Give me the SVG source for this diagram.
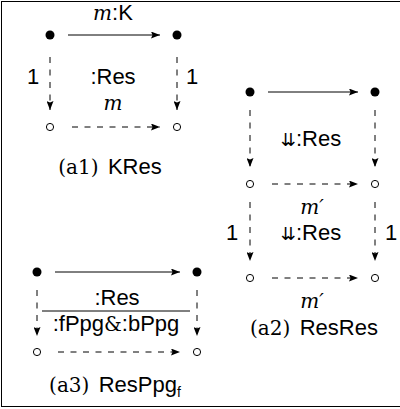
<svg xmlns="http://www.w3.org/2000/svg" width="400" height="409" viewBox="0 0 400 409">
  <defs>
    <marker id="ah" markerWidth="9" markerHeight="7" refX="9" refY="3.5" orient="auto" markerUnits="userSpaceOnUse">
      <path d="M0,0 L9,3.5 L0,7 L1.5,3.5 z" fill="#000"/>
    </marker>
    <style>
      .edge{stroke:#000;stroke-width:1;fill:none;marker-end:url(#ah)}
      .dash{stroke-dasharray:6 6.5}
      .full{fill:#000}
      .hollow{fill:#fff;stroke:#000;stroke-width:1}
      .rule{stroke:#000;stroke-width:1}
      .sf{font-family:"Liberation Sans",Arial,sans-serif;font-size:22px}
      .rm{font-family:"DejaVu Serif","Liberation Serif",serif;font-size:20px}
      .it{font-family:"DejaVu Serif","Liberation Serif",serif;font-style:italic;font-size:20px}
      .sym{font-family:"DejaVu Sans",sans-serif;font-size:18px}
      text{text-anchor:middle;fill:#000}
    </style>
  </defs>

  <!-- frame -->
  <rect x="1.5" y="1.5" width="402" height="405" fill="none" stroke="#000" stroke-width="1"/>

  <!-- nodes -->
  <g id="a1-tl"><circle class="full" cx="50" cy="35" r="4.5"/></g>
  <g id="a1-tr"><circle class="full" cx="177" cy="35" r="4.5"/></g>
  <g id="a1-bl"><circle class="hollow" cx="50" cy="127" r="3.6"/></g>
  <g id="a1-br"><circle class="hollow" cx="177" cy="127" r="3.6"/></g>

  <g id="a2-tl"><circle class="full" cx="250" cy="92" r="4.5"/></g>
  <g id="a2-tr"><circle class="full" cx="375" cy="92" r="4.5"/></g>
  <g id="a2-ml"><circle class="hollow" cx="250" cy="184" r="3.6"/></g>
  <g id="a2-mr"><circle class="hollow" cx="375" cy="184" r="3.6"/></g>
  <g id="a2-bl"><circle class="hollow" cx="250" cy="278" r="3.6"/></g>
  <g id="a2-br"><circle class="hollow" cx="375" cy="278" r="3.6"/></g>

  <g id="a3-tl"><circle class="full" cx="37" cy="272" r="4.5"/></g>
  <g id="a3-tr"><circle class="full" cx="197" cy="272" r="4.5"/></g>
  <g id="a3-bl"><circle class="hollow" cx="37" cy="352" r="3.6"/></g>
  <g id="a3-br"><circle class="hollow" cx="197" cy="352" r="3.6"/></g>

  <!-- connectors -->
  <g id="connectors">
    <line class="edge" x1="68" y1="35" x2="160" y2="35"/>
    <line class="edge dash" x1="50" y1="57" x2="50" y2="110"/>
    <line class="edge dash" x1="177" y1="57" x2="177" y2="110"/>
    <line class="edge dash" x1="72" y1="127" x2="160" y2="127"/>

    <line class="edge" x1="268" y1="92" x2="358" y2="92"/>
    <line class="edge dash" x1="250" y1="110" x2="250" y2="167"/>
    <line class="edge dash" x1="375" y1="110" x2="375" y2="167"/>
    <line class="edge dash" x1="272" y1="184" x2="358" y2="184"/>
    <line class="edge dash" x1="250" y1="202" x2="250" y2="261"/>
    <line class="edge dash" x1="375" y1="202" x2="375" y2="261"/>
    <line class="edge dash" x1="272" y1="278" x2="358" y2="278"/>

    <line class="edge" x1="55" y1="272" x2="180" y2="272"/>
    <line class="edge dash" x1="37" y1="290" x2="37" y2="336"/>
    <line class="edge dash" x1="197" y1="290" x2="197" y2="336"/>
    <line class="edge dash" x1="58" y1="352" x2="180" y2="352"/>
  </g>

  <!-- labels -->
  <g id="a1-labels">
    <text x="113" y="20" class="sf"><tspan class="it">m</tspan>:K</text>
    <text x="33" y="84" class="sf">1</text>
    <text x="113" y="84" class="sf">:Res</text>
    <text x="192" y="84" class="sf">1</text>
    <text x="113" y="110" class="it">m</text>
    <text x="110" y="174" class="rm">(a1) <tspan class="sf" dx="3">KRes</tspan></text>
  </g>
  <g id="a2-labels">
    <text x="311" y="146" class="sf"><tspan class="sym">⇊</tspan>:Res</text>
    <text x="312" y="214" class="it">m′</text>
    <text x="232" y="240" class="sf">1</text>
    <text x="311" y="240" class="sf"><tspan class="sym">⇊</tspan>:Res</text>
    <text x="391" y="240" class="sf">1</text>
    <text x="312" y="308" class="it">m′</text>
    <text x="314" y="335" class="rm">(a2) <tspan class="sf" dx="3">ResRes</tspan></text>
  </g>
  <g id="a3-labels">
    <text x="117" y="305" class="sf">:Res</text>
    <line class="rule" x1="42" y1="311" x2="190" y2="311"/>
    <text x="116" y="331" class="sf">:fPpg<tspan class="rm">&amp;</tspan>:bPpg</text>
    <text x="115" y="392" class="rm">(a3) <tspan class="sf" dx="3">ResPpg<tspan font-size="14" dy="5">f</tspan></tspan></text>
  </g>
</svg>
